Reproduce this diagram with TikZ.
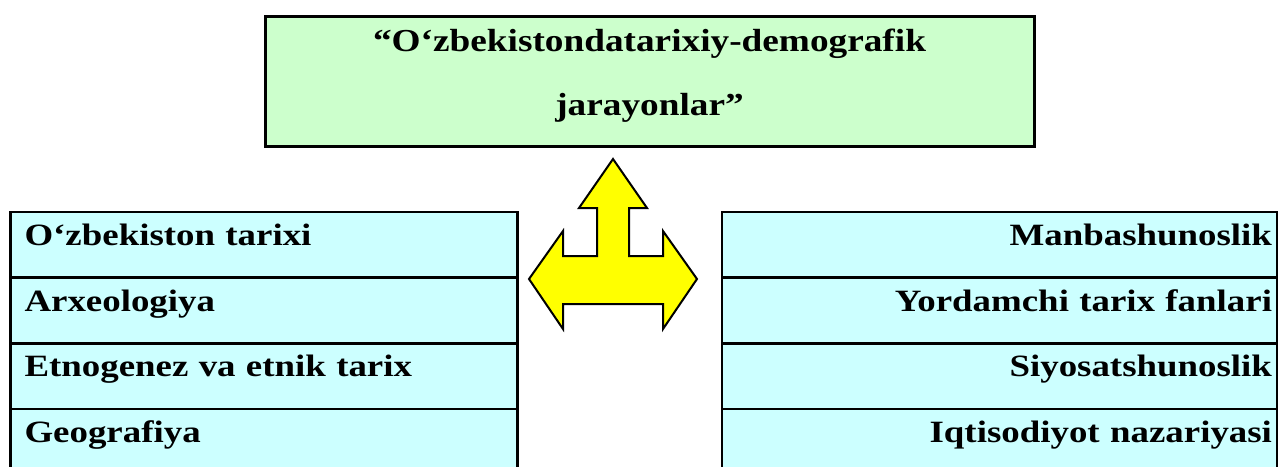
\documentclass[tikz,border=0pt]{standalone}
\usepackage{fontspec}
\setmainfont{Liberation Serif}
\newfontfamily\titlefont{Liberation Serif}[FakeStretch=1.165]
\newfontfamily\rowfont{Liberation Serif}[FakeStretch=1.19]
\usetikzlibrary{positioning}
\definecolor{titlegreen}{RGB}{204,255,204}
\definecolor{rowcyan}{RGB}{204,255,255}
\definecolor{arrowyellow}{RGB}{255,255,0}

\begin{document}
\begin{tikzpicture}[x=1pt, y=-1pt,
  title/.style={rectangle, draw=black, fill=titlegreen, line width=3pt, outer sep=0pt,
                minimum width=769pt, minimum height=130pt, align=center,
                text height=86pt, text depth=17pt,
                font=\titlefont\fontsize{32}{64}\selectfont\bfseries},
  lrow/.style={rectangle, draw=black, fill=rowcyan, line width=2.5pt, outer sep=0pt,
               inner xsep=14pt, inner ysep=0pt, text width=479pt, align=left,
               text height=33.5pt, text depth=32.2pt,
               font=\rowfont\fontsize{31}{36}\selectfont\bfseries},
  rrow/.style={lrow, inner xsep=5pt, text width=545pt, align=right},
  bigarrow/.style={draw=black, fill=arrowyellow, line width=2pt, line join=miter}
]
  \useasboundingbox (0,0) rectangle (1280,466);

  \node[title] (theme) at (649.5,81) {“O‘zbekistondatarixiy-demografik\\jarayonlar”};

  % left column
  \node[lrow, anchor=north west] (l1) at (10.5,212) {O‘zbekiston tarixi};
  \node[lrow, below=0pt of l1] (l2) {Arxeologiya};
  \node[lrow, below=0pt of l2] (l3) {Etnogenez va etnik tarix};
  \node[lrow, below=0pt of l3] (l4) {Geografiya};

  % right column
  \node[rrow, anchor=north west] (r1) at (722,212) {Manbashunoslik};
  \node[rrow, below=0pt of r1] (r2) {Yordamchi tarix fanlari};
  \node[rrow, below=0pt of r2] (r3) {Siyosatshunoslik};
  \node[rrow, below=0pt of r3] (r4) {Iqtisodiyot nazariyasi};

  % three-way arrow
  \draw[bigarrow] (613,159) -- (647,208) -- (629,208) -- (629,256) -- (663,256)
    -- (663,231) -- (697,279) -- (663,329) -- (663,304) -- (563,304) -- (563,329)
    -- (529,279) -- (563,231) -- (563,256) -- (597,256) -- (597,208) -- (579,208) -- cycle;
\end{tikzpicture}
\end{document}
